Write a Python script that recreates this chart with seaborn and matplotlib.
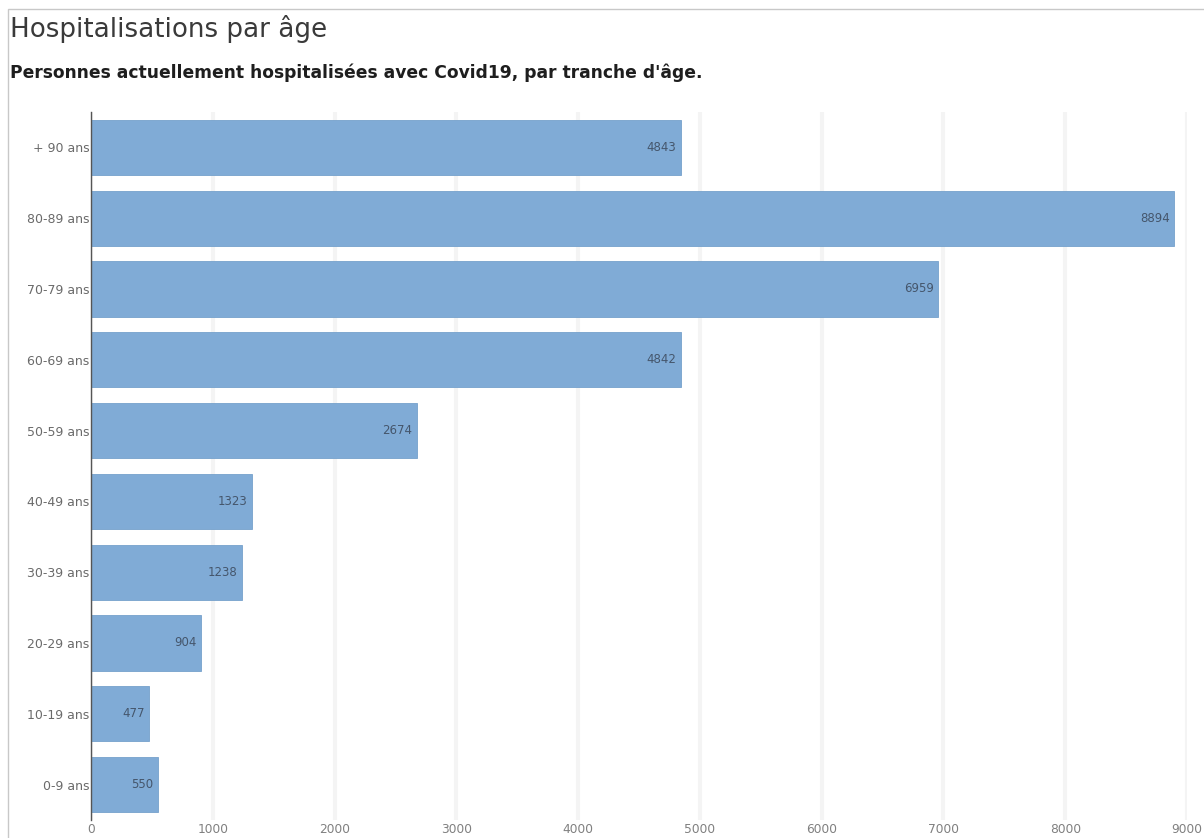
import matplotlib
matplotlib.use("Agg")
import matplotlib.pyplot as plt
import seaborn as sns
import pandas as pd
from matplotlib.patches import Rectangle

# Age groups (top to bottom) and current hospitalisations
age_groups = ["+ 90 ans", "80-89 ans", "70-79 ans", "60-69 ans", "50-59 ans",
              "40-49 ans", "30-39 ans", "20-29 ans", "10-19 ans", "0-9 ans"]
hospitalised = [4843, 8894, 6959, 4842, 2674, 1323, 1238, 904, 477, 550]
x_ticks = [0, 1000, 2000, 3000, 4000, 5000, 6000, 7000, 8000, 9000]

df = pd.DataFrame({"age": age_groups, "n": hospitalised})

sns.set_theme(style="white")
plt.rcParams["font.family"] = ["DejaVu Sans"]

fig = plt.figure(figsize=(12.04, 8.38), dpi=100)
fig.patch.set_facecolor("white")

# thin grey panel frame (top and left edges visible)
fig.add_artist(Rectangle((8 / 1204, -0.05), 1.1, 1 - 9 / 838 + 0.05,
                         transform=fig.transFigure, fill=False,
                         edgecolor="#c8c8c8", linewidth=1.0))

ax = fig.add_axes([91 / 1204, 1 - 820 / 838, (1187 - 91) / 1204, (820 - 112) / 838])

sns.barplot(data=df, x="n", y="age", orient="h", ax=ax,
            color="#80abd6", saturation=1, width=0.78,
            edgecolor="#76a1cc", linewidth=0.6, zorder=3)

ax.set_xlim(0, 9000)
ax.set_ylim(9.5, -0.5)
ax.set_xticks(x_ticks)
ax.set_xticklabels([str(t) for t in x_ticks])
ax.set_xlabel("")
ax.set_ylabel("")

ax.grid(axis="x", color="#f4f4f4", linewidth=3, zorder=0)
ax.grid(axis="y", visible=False)
for side in ["top", "right", "bottom"]:
    ax.spines[side].set_visible(False)
ax.spines["left"].set_color("#555555")
ax.spines["left"].set_linewidth(1.0)
ax.spines["left"].set_zorder(4)

ax.tick_params(axis="x", length=0, pad=2, labelsize=8.8, labelcolor="#808080")
ax.tick_params(axis="y", length=0, pad=1, labelsize=9, labelcolor="#6a6a6a")

# value labels inside bar ends
for i, v in enumerate(hospitalised):
    ax.text(v - 35, i, f"{v}", ha="right", va="center",
            fontsize=8.5, color="#45566c", zorder=5)

fig.text(10 / 1204, 1 - 29 / 838, "Hospitalisations par âge",
         fontsize=18.8, color="#3a3a3a", ha="left", va="center")
fig.text(10 / 1204, 1 - 73 / 838,
         "Personnes actuellement hospitalisées avec Covid19, par tranche d'âge.",
         fontsize=12.3, fontweight="bold", color="#1e1e1e", ha="left", va="center")

fig.savefig("out.png", dpi=100, facecolor="white")
